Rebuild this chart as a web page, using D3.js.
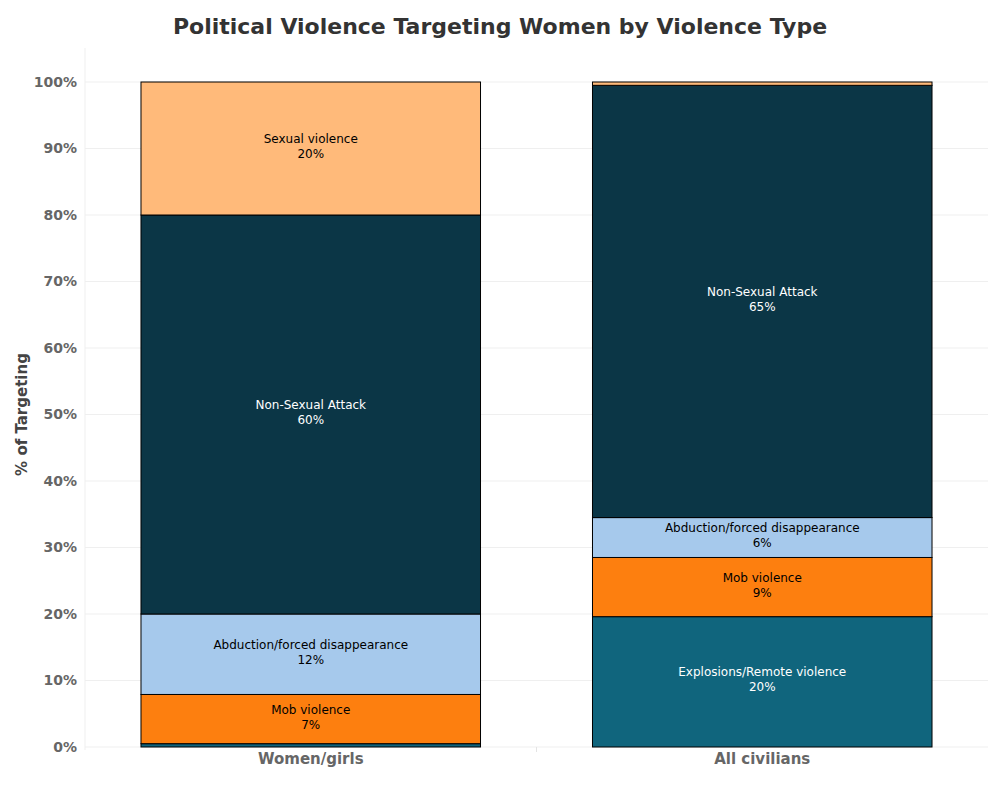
<!DOCTYPE html>
<html>
<head>
<meta charset="utf-8">
<script src="https://cdn.jsdelivr.net/npm/d3@7"></script>
<style>
  body { margin: 0; background: #fff; }
  svg text { font-family: "DejaVu Sans", sans-serif; }
</style>
</head>
<body>
<div id="chart"></div>
<script>
// data
var groups = ['Women/girls', 'All civilians']
var types = ['Explosions/Remote violence', 'Mob violence', 'Abduction/forced disappearance', 'Non-Sexual Attack', 'Sexual violence']
var womenValues = [0.005, 0.074, 0.121, 0.600, 0.200]
var civilianValues = [0.196, 0.089, 0.060, 0.650, 0.005]
var yTicks = [0, 0.1, 0.2, 0.3, 0.4, 0.5, 0.6, 0.7, 0.8, 0.9, 1.0]

var colors = ['#10657d', '#fd7f0f', '#a6c9ec', '#0b3646', '#ffba7a']
var labelColors = ['#fff', '#000', '#000', '#fff', '#000']

var margin = { top: 82, right: 12, bottom: 53, left: 85 }
var W = 1000, H = 800
var w = W - margin.left - margin.right
var h = H - margin.top - margin.bottom

var table = groups.map(function (g, i) {
  var row = { group: g }
  var vals = i === 0 ? womenValues : civilianValues
  types.forEach(function (t, j) { row[t] = vals[j] })
  return row
})
var stacked = d3.stack().keys(types)(table)

var svg = d3.select('#chart').append('svg')
  .attr('width', W).attr('height', H)

svg.append('text')
  .attr('x', 500).attr('y', 34)
  .attr('text-anchor', 'middle')
  .style('font-size', '22px').style('font-weight', 'bold')
  .attr('fill', '#333')
  .text('Political Violence Targeting Women by Violence Type')

var g = svg.append('g')
  .attr('transform', 'translate(' + margin.left + ',' + margin.top + ')')

var x = d3.scaleBand().domain(groups).range([0, w]).paddingInner(0.248).paddingOuter(0.124)
var y = d3.scaleLinear().domain([0, 1]).range([h, 0])

// gridlines
g.append('g')
  .selectAll('line')
  .data(yTicks)
  .enter().append('line')
  .attr('x1', 0).attr('x2', w)
  .attr('y1', function (d) { return y(d) }).attr('y2', function (d) { return y(d) })
  .attr('stroke', '#efefef')

g.append('line')
  .attr('x1', 0).attr('x2', 0).attr('y1', -34).attr('y2', h + 3)
  .attr('stroke', '#efefef')
g.append('line')
  .attr('x1', w / 2).attr('x2', w / 2).attr('y1', h).attr('y2', h + 5)
  .attr('stroke', '#e4e4e4')

// Y axis
var yAxis = g.append('g')
  .call(d3.axisLeft(y).tickValues(yTicks).tickFormat(d3.format('.0%')).tickSize(0).tickPadding(8))
yAxis.select('.domain').remove()
yAxis.selectAll('text')
  .style('font-size', '14px').style('font-weight', 'bold').attr('fill', '#666')

// X axis
var xAxis = g.append('g')
  .attr('transform', 'translate(0,' + h + ')')
  .call(d3.axisBottom(x).tickSize(0).tickPadding(6))
xAxis.select('.domain').remove()
xAxis.selectAll('text')
  .style('font-size', '15px').style('font-weight', 'bold').attr('fill', '#666')

svg.append('text')
  .attr('transform', 'translate(27,' + (margin.top + h / 2) + ') rotate(-90)')
  .attr('text-anchor', 'middle')
  .style('font-size', '15px').style('font-weight', 'bold')
  .attr('fill', '#444')
  .text('% of Targeting')

// bars
var layers = g.selectAll('.layer')
  .data(stacked)
  .enter().append('g')
  .attr('class', 'layer')

layers.selectAll('rect')
  .data(function (d) { return d.map(function (s) { return { key: d.key, idx: d.index, s: s } }) })
  .enter().append('rect')
  .attr('x', function (d) { return x(d.s.data.group) })
  .attr('width', x.bandwidth())
  .attr('y', function (d) { return y(d.s[1]) })
  .attr('height', function (d) { return y(d.s[0]) - y(d.s[1]) })
  .attr('fill', function (d) { return colors[d.idx] })
  .attr('stroke', '#000')
  .attr('stroke-width', 1)

var pct = d3.format('.0%')
var labels = layers.selectAll('text')
  .data(function (d) {
    return d.map(function (s) { return { key: d.key, idx: d.index, s: s } })
      .filter(function (e) { return e.s[1] - e.s[0] > 0.03 })
  })
  .enter().append('text')
  .attr('text-anchor', 'middle')
  .attr('fill', function (d) { return labelColors[d.idx] })
  .style('font-size', '12px')
  .attr('transform', function (d) {
    return 'translate(' + (x(d.s.data.group) + x.bandwidth() / 2) + ',' + y((d.s[0] + d.s[1]) / 2) + ')'
  })
labels.append('tspan').attr('x', 0).attr('dy', '-0.45em').text(function (d) { return d.key })
labels.append('tspan').attr('x', 0).attr('dy', '1.25em').text(function (d) { return pct(d.s[1] - d.s[0]) })
</script>
</body>
</html>
